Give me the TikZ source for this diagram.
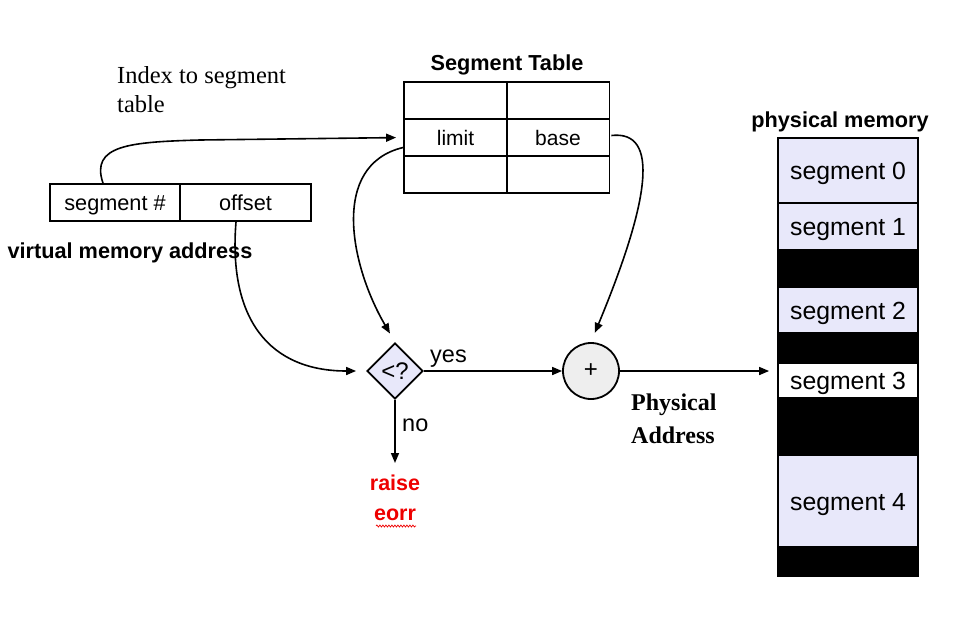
\documentclass[tikz,border=0pt]{standalone}
\usepackage{fontspec}
\setmainfont{Liberation Sans}
\newfontfamily\timesf{Liberation Serif}
\usetikzlibrary{shapes.geometric,arrows.meta,decorations.pathmorphing}
\definecolor{lav}{HTML}{E8E8FA}
\definecolor{circfill}{HTML}{EEEEEE}
\definecolor{errred}{HTML}{EE0000}
\begin{document}
\begin{tikzpicture}[x=1pt,y=-1pt,
  cell/.style={draw, line width=1.8pt, minimum width=103pt, minimum height=37pt, inner sep=0pt, text height=15pt, text depth=0pt, font=\fontsize{21}{25}\selectfont},
  vcell/.style={draw, line width=1.8pt, minimum width=130.5pt, minimum height=37pt, inner sep=0pt, text height=15.5pt, text depth=0pt, font=\fontsize{21.7}{25}\selectfont},
  memseg/.style={draw, line width=1.8pt, minimum width=140pt, inner sep=0pt, fill=lav, text height=18pt, text depth=0pt, font=\fontsize{24.8}{28}\selectfont},
  memgap/.style={draw, line width=1.8pt, minimum width=140pt, inner sep=0pt, fill=black},
  title/.style={font=\bfseries\fontsize{21.7}{25}\selectfont, inner sep=0pt},
  conn/.style={line width=1.6pt, -{Triangle[length=10pt,width=8pt]}},
  lbl/.style={font=\fontsize{23.5}{27}\selectfont, inner sep=0pt}
]
\useasboundingbox (0,0) rectangle (961,627);

% Index text
\node[anchor=north west, align=left, inner sep=0pt, font=\timesf\fontsize{24.5}{29}\selectfont] (idx) at (117,66) {Index to segment\\table};

% Segment table
\node[title] (sttitle) at (507,65) {Segment Table};
\node[cell] (t11) at (455.5,100.5) {};
\node[cell] (t12) at (558,100.5) {};
\node[cell] (limit) at (455.5,137.5) {limit};
\node[cell] (base) at (558,137.5) {base};
\node[cell] (t31) at (455.5,174.5) {};
\node[cell] (t32) at (558,174.5) {};

% Virtual address
\node[vcell] (vseg) at (115,202.5) {segment \#};
\node[vcell] (voff) at (245.5,202.5) {offset};
\node[title] (vtitle) at (130,253) {virtual memory address};

% Comparator and adder
\node[diamond, draw, line width=1.8pt, fill=lav, minimum width=56pt, minimum height=56pt, inner sep=0pt, font=\fontsize{24}{28}\selectfont] (cmp) at (395,371) {<?};
\node[circle, draw, line width=1.8pt, fill=circfill, minimum size=56pt, inner sep=0pt, font=\fontsize{24}{28}\selectfont] (add) at (591,371) {+};

% Labels
\node[lbl, anchor=base west] (yes) at (430,362) {yes};
\node[lbl, anchor=base west] (no) at (402,431) {no};
\node[anchor=north, align=center, inner sep=0pt, text=errred, font=\bfseries\fontsize{21.5}{30}\selectfont] (err) at (395,475) {raise\\eorr};
\draw[errred, line width=0.7pt, decorate, decoration={snake, amplitude=1pt, segment length=3pt}] (376,526) -- (416,526);
\node[anchor=north west, align=left, inner sep=0pt, font=\timesf\bfseries\fontsize{24}{33}\selectfont] (phys) at (631,394) {Physical\\Address};

% Physical memory
\node[title] (mtitle) at (840,122) {physical memory};
\node[memseg, minimum height=65pt] (seg0) at (848,170.5) {segment 0};
\node[memseg, minimum height=47pt] (seg1) at (848,226.5) {segment 1};
\node[memgap, minimum height=37pt] (gap1) at (848,268.5) {};
\node[memseg, minimum height=46pt] (seg2) at (848,310) {segment 2};
\node[memgap, minimum height=30pt] (gap2) at (848,348) {};
\node[memseg, minimum height=35pt, fill=white] (seg3) at (848,380.5) {segment 3};
\node[memgap, minimum height=57pt] (gap3) at (848,426.5) {};
\node[memseg, minimum height=92pt] (seg4) at (848,501) {segment 4};
\node[memgap, minimum height=29pt] (gap4) at (848,561.5) {};

% Connectors
\draw[conn, shorten >=7pt] ([xshift=-12pt]vseg.north) .. controls (90,145) and (130,142) .. (200,140) -- (limit.west);
\draw[conn, shorten >=10pt] ([yshift=-10pt]limit.west) .. controls (330,165) and (350,265) .. (cmp.north);
\draw[conn, shorten >=10pt] ([xshift=1pt,yshift=2pt]base.east) .. controls (660,130) and (650,200) .. (add.north);
\draw[conn, shorten >=10pt] ([xshift=-9.5pt]voff.south) .. controls (228,320) and (270,371) .. (cmp.west);
\draw[conn] (cmp.east) -- (add.west);
\draw[conn, shorten >=8pt] (add.east) -- (add.east -| seg3.west);
\draw[conn, shorten >=12pt] (cmp.south) -- (err.north);
\end{tikzpicture}
\end{document}
